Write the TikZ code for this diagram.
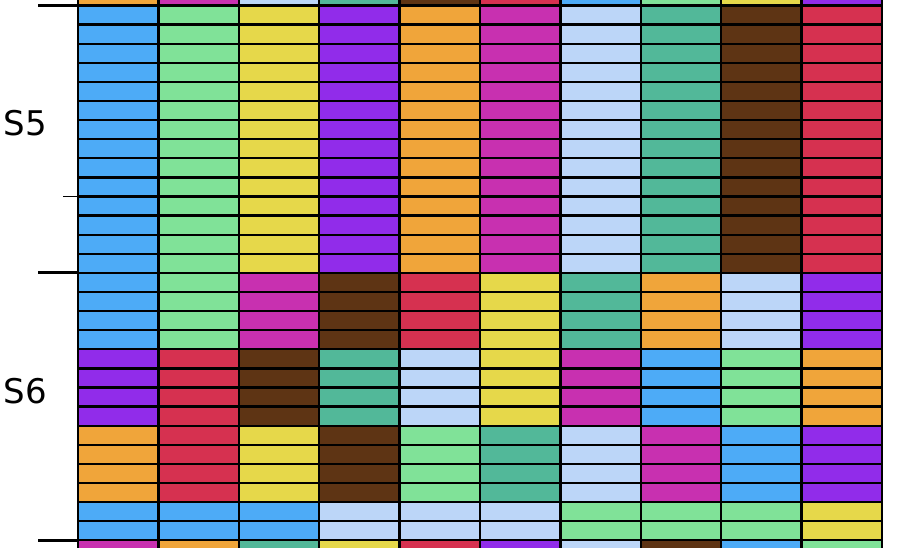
\documentclass[tikz,border=0pt]{standalone}
\usepackage{fontspec}
\setmainfont{DejaVu Sans}
\definecolor{cB}{RGB}{77,171,247}
\definecolor{cG}{RGB}{128,226,152}
\definecolor{cY}{RGB}{230,216,74}
\definecolor{cP}{RGB}{145,44,234}
\definecolor{cO}{RGB}{240,165,58}
\definecolor{cM}{RGB}{200,48,176}
\definecolor{cL}{RGB}{188,214,248}
\definecolor{cT}{RGB}{82,184,153}
\definecolor{cN}{RGB}{94,52,20}
\definecolor{cR}{RGB}{214,49,80}
\newcommand\xo{78}
\newcommand\cw{80.4}
\newcommand\yo{5.5}
\newcommand\rh{19.1}
\newcommand\cellrow[2]{%
  \foreach \c [count=\i from 0] in {#2} {%
    \draw[cell, fill=c\c] ({\xo+\i*\cw},{\yo+(#1)*\rh}) rectangle ++(\cw,\rh);
  }}
\begin{document}
\begin{tikzpicture}[x=1pt,y=-1pt,
  cell/.style={draw=black, line width=2.3pt},
  majortick/.style={draw=black, line width=3pt},
  minortick/.style={draw=black, line width=1pt},
  seclabel/.style={font=\fontsize{34}{40}\selectfont, inner sep=0pt}]
\clip (0,0) rectangle (898,548);
\fill[white] (0,0) rectangle (898,548);
% partial top row
\cellrow{-1}{O,M,L,T,N,R,B,G,Y,P}
% S5
\foreach \r in {0,...,13} {\cellrow{\r}{B,G,Y,P,O,M,L,T,N,R}}
% S6
\foreach \r in {14,...,17} {\cellrow{\r}{B,G,M,N,R,Y,T,O,L,P}}
\foreach \r in {18,...,21} {\cellrow{\r}{P,R,N,T,L,Y,M,B,G,O}}
\foreach \r in {22,...,25} {\cellrow{\r}{O,R,Y,N,G,T,L,M,B,P}}
\foreach \r in {26,27} {\cellrow{\r}{B,B,B,L,L,L,G,G,G,Y}}
% partial bottom row
\cellrow{28}{M,O,T,Y,R,P,L,N,B,G}
% ticks
\coordinate (t0) at (77,\yo);
\coordinate (t1) at (77,{\yo+14*\rh});
\coordinate (t2) at (77,{\yo+28*\rh});
\coordinate (m1) at (77,{\yo+10*\rh});
\draw[majortick] (t0) -- ++(-39,0);
\draw[majortick] (t1) -- ++(-39,0);
\draw[majortick] (t2) -- ++(-39,0);
\draw[minortick] (m1) -- ++(-14,0);
% labels
\node[seclabel] (s5) at (25.5,123) {S5};
\node[seclabel] (s6) at (25.5,391) {S6};
\end{tikzpicture}
\end{document}
